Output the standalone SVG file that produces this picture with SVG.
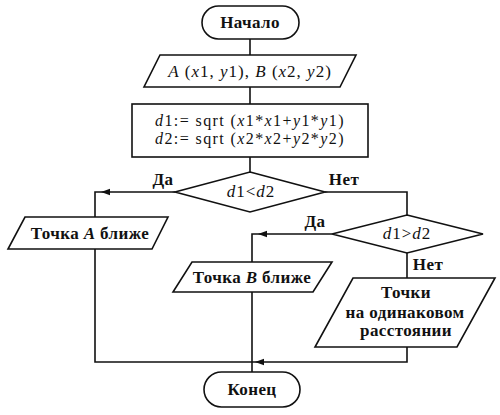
<svg xmlns="http://www.w3.org/2000/svg" xmlns:xlink="http://www.w3.org/1999/xlink" width="500" height="415" viewBox="0 0 500 415">
<style>
.shape{fill:#fff;stroke:#111;stroke-width:1.6}
.line{fill:none;stroke:#111;stroke-width:1.6}
text{font-family:"Liberation Serif","DejaVu Serif",serif;font-size:17px;font-weight:bold;fill:#111;text-anchor:middle;letter-spacing:0.4px}
.f{font-weight:normal;letter-spacing:1px}
.g{font-size:16px;letter-spacing:1.4px}
.i{font-style:italic}
</style>
<defs>
<path id="arr" d="M0,0 L9,-3.2 L9,3.2 Z" fill="#111"/>
</defs>
<rect width="500" height="415" fill="#fff"/>
<g id="connectors">
<path class="line" d="M250,39 V55"/>
<path class="line" d="M250,87 V104"/>
<path class="line" d="M250,157 V172"/>
<path class="line" d="M175,192 H95 V217"/>
<path class="line" d="M325,192 H407 V215"/>
<path class="line" d="M332,234 H252 V262"/>
<path class="line" d="M407,253 V278"/>
<path class="line" d="M95,249 V362 H252"/>
<path class="line" d="M252,292 V372"/>
<path class="line" d="M407,347 V362 H252"/>
<use xlink:href="#arr" x="101" y="192"/>
<use xlink:href="#arr" x="258" y="234"/>
<use xlink:href="#arr" x="255" y="362"/>
<text x="163" y="185">Да</text>
<text x="344" y="185">Нет</text>
<text x="315" y="227">Да</text>
<text x="428" y="270">Нет</text>
</g>
<g id="start">
<rect class="shape" x="202" y="6" width="97" height="33" rx="16.5"/>
<text x="250" y="28">Начало</text>
</g>
<g id="input">
<polygon class="shape" points="160,55 356,55 340,87 144,87"/>
<text class="f" x="250" y="77"><tspan class="i">A</tspan> (<tspan class="i">x</tspan>1, <tspan class="i">y</tspan>1), <tspan class="i">B</tspan> (<tspan class="i">x</tspan>2, <tspan class="i">y</tspan>2)</text>
</g>
<g id="calc">
<rect class="shape" x="132" y="104" width="236" height="53"/>
<text class="f g" x="250" y="126"><tspan class="i">d</tspan>1:= sqrt (<tspan class="i">x</tspan>1*<tspan class="i">x</tspan>1+<tspan class="i">y</tspan>1*<tspan class="i">y</tspan>1)</text>
<text class="f g" x="250" y="144"><tspan class="i">d</tspan>2:= sqrt (<tspan class="i">x</tspan>2*<tspan class="i">x</tspan>2+<tspan class="i">y</tspan>2*<tspan class="i">y</tspan>2)</text>
</g>
<g id="cond1">
<polygon class="shape" points="250,172 325,192 250,212 175,192"/>
<text class="f" x="251" y="197"><tspan class="i">d</tspan>1&lt;<tspan class="i">d</tspan>2</text>
</g>
<g id="outA">
<polygon class="shape" points="25,217 168,217 152,249 8,249"/>
<text x="90" y="239">Точка <tspan class="i">A</tspan> ближе</text>
</g>
<g id="cond2">
<polygon class="shape" points="407,215 483,234 407,253 332,234"/>
<text class="f" x="407" y="239"><tspan class="i">d</tspan>1&gt;<tspan class="i">d</tspan>2</text>
</g>
<g id="outB">
<polygon class="shape" points="192,262 332,262 313,292 173,292"/>
<text x="252" y="283">Точка <tspan class="i">B</tspan> ближе</text>
</g>
<g id="outEq">
<polygon class="shape" points="353,278 495,278 457,347 315,347"/>
<text x="406" y="298">Точки</text>
<text x="405" y="318">на одинаковом</text>
<text x="406" y="336">расстоянии</text>
</g>
<g id="end">
<rect class="shape" x="204" y="372" width="96" height="35" rx="17.5"/>
<text x="252" y="395">Конец</text>
</g>
</svg>
